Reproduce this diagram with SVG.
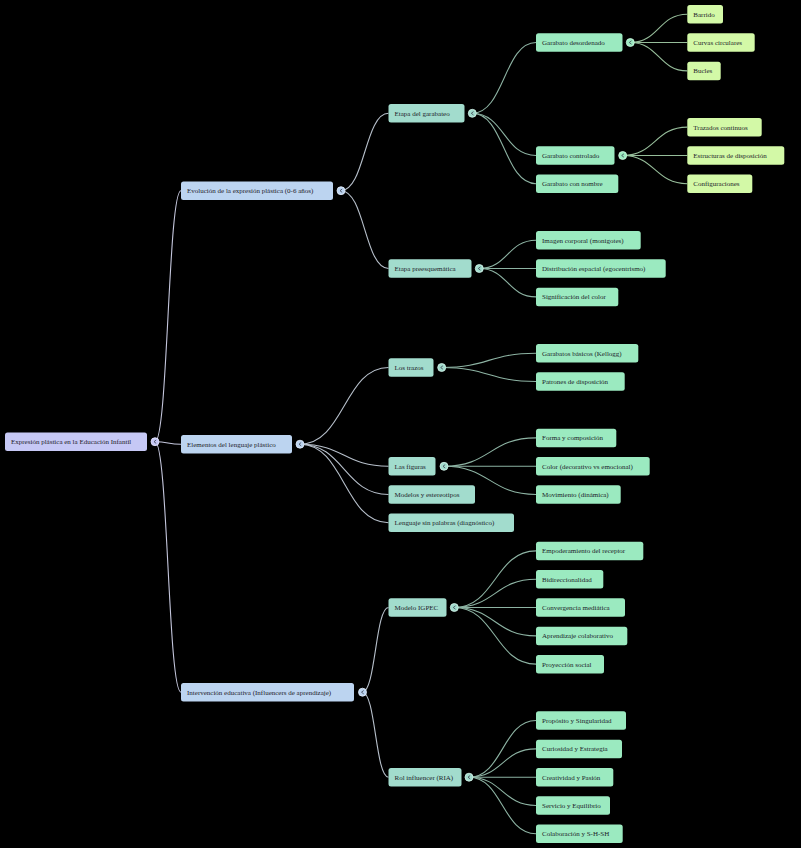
<svg xmlns="http://www.w3.org/2000/svg" width="801" height="848" viewBox="0 0 801 848">
<style>
text{font-family:"Liberation Serif","Times New Roman",serif;font-size:7px;fill:#1c1c2a}
.n rect{rx:2.5;ry:2.5}
.l0 rect{fill:#c6c8f5}
.l1 rect{fill:#bcd4f0}
.l2 rect{fill:#a2dccd}
.l3 rect{fill:#9beac0}
.l4 rect{fill:#d3f9a7}
.c{stroke-width:0.8}
.c0{fill:#c6c8f5;stroke:#e8e9ff}
.c1{fill:#bcd4f0;stroke:#e4eefa}
.c2{fill:#a2dccd;stroke:#d6f2ea}
.c3{fill:#9beac0;stroke:#d2f7e2}
.chev{fill:none;stroke:#3a4050;stroke-width:0.8}
#links path{fill:none;stroke-width:1.1}
.k1{stroke:#c4c6dc}
.k2{stroke:#b6bfca}
.k3{stroke:#8db3a3}
.k4{stroke:#96bd9a}
</style>
<rect width="801" height="848" fill="#000"/>
<g id="links">
<path class="k1" d="M155 441.7 C168 441.7 168 190.7 181 190.7"/>
<path class="k1" d="M155 441.7 C168 441.7 168 444.2 181 444.2"/>
<path class="k1" d="M155 441.7 C168 441.7 168 692.2 181 692.2"/>
<path class="k2" d="M341 190.7 C364.75 190.7 364.75 113.3 388.5 113.3"/>
<path class="k2" d="M341 190.7 C364.75 190.7 364.75 268.5 388.5 268.5"/>
<path class="k2" d="M300 444.2 C344.25 444.2 344.25 367.5 388.5 367.5"/>
<path class="k2" d="M300 444.2 C344.25 444.2 344.25 466.3 388.5 466.3"/>
<path class="k2" d="M300 444.2 C344.25 444.2 344.25 494.5 388.5 494.5"/>
<path class="k2" d="M300 444.2 C344.25 444.2 344.25 522.7 388.5 522.7"/>
<path class="k2" d="M362.5 692.2 C375.5 692.2 375.5 607.5 388.5 607.5"/>
<path class="k2" d="M362.5 692.2 C375.5 692.2 375.5 777.2 388.5 777.2"/>
<path class="k3" d="M472.3 113.3 C504.15 113.3 504.15 42.5 536 42.5"/>
<path class="k3" d="M472.3 113.3 C504.15 113.3 504.15 155.5 536 155.5"/>
<path class="k3" d="M472.3 113.3 C504.15 113.3 504.15 183.7 536 183.7"/>
<path class="k3" d="M479.3 268.5 C507.65 268.5 507.65 240.2 536 240.2"/>
<path class="k3" d="M479.3 268.5 C507.65 268.5 507.65 268.5 536 268.5"/>
<path class="k3" d="M479.3 268.5 C507.65 268.5 507.65 296.9 536 296.9"/>
<path class="k3" d="M441.7 367.5 C488.85 367.5 488.85 353.2 536 353.2"/>
<path class="k3" d="M441.7 367.5 C488.85 367.5 488.85 381.5 536 381.5"/>
<path class="k3" d="M444 466.3 C490 466.3 490 437.9 536 437.9"/>
<path class="k3" d="M444 466.3 C490 466.3 490 466.2 536 466.2"/>
<path class="k3" d="M444 466.3 C490 466.3 490 494.5 536 494.5"/>
<path class="k3" d="M454.3 607.5 C495.15 607.5 495.15 550.9 536 550.9"/>
<path class="k3" d="M454.3 607.5 C495.15 607.5 495.15 579.2 536 579.2"/>
<path class="k3" d="M454.3 607.5 C495.15 607.5 495.15 607.5 536 607.5"/>
<path class="k3" d="M454.3 607.5 C495.15 607.5 495.15 635.9 536 635.9"/>
<path class="k3" d="M454.3 607.5 C495.15 607.5 495.15 664.1 536 664.1"/>
<path class="k3" d="M469 777.2 C502.5 777.2 502.5 720.5 536 720.5"/>
<path class="k3" d="M469 777.2 C502.5 777.2 502.5 748.9 536 748.9"/>
<path class="k3" d="M469 777.2 C502.5 777.2 502.5 777.2 536 777.2"/>
<path class="k3" d="M469 777.2 C502.5 777.2 502.5 805.5 536 805.5"/>
<path class="k3" d="M469 777.2 C502.5 777.2 502.5 833.8 536 833.8"/>
<path class="k4" d="M630.3 42.5 C658.8 42.5 658.8 14.2 687.3 14.2"/>
<path class="k4" d="M630.3 42.5 C658.8 42.5 658.8 42.5 687.3 42.5"/>
<path class="k4" d="M630.3 42.5 C658.8 42.5 658.8 70.9 687.3 70.9"/>
<path class="k4" d="M622.7 155.5 C655 155.5 655 127.1 687.3 127.1"/>
<path class="k4" d="M622.7 155.5 C655 155.5 655 155.5 687.3 155.5"/>
<path class="k4" d="M622.7 155.5 C655 155.5 655 183.7 687.3 183.7"/>
</g>

<g id="root" class="n l0"><rect x="5" y="432.5" width="142" height="18.5"/><text x="11" y="444.1">Expresión plástica en la Educación Infantil</text><circle class="c c0" cx="155" cy="441.7" r="4"/><path class="chev" d="M156.2 440 L154 441.7 L156.2 443.4"/></g>

<g id="n-evolucion" class="n l1"><rect x="181" y="181.5" width="152" height="18.5"/><text x="187" y="193.1">Evolución de la expresión plástica (0-6 años)</text><circle class="c c1" cx="341" cy="190.7" r="4"/><path class="chev" d="M342.2 189 L340 190.7 L342.2 192.4"/></g>
<g id="n-elementos" class="n l1"><rect x="181" y="435" width="111" height="18.5"/><text x="187" y="446.6">Elementos del lenguaje plástico</text><circle class="c c1" cx="300" cy="444.2" r="4"/><path class="chev" d="M301.2 442.5 L299 444.2 L301.2 445.9"/></g>
<g id="n-intervencion" class="n l1"><rect x="181" y="683" width="173" height="18.5"/><text x="187" y="694.6">Intervención educativa (Influencers de aprendizaje)</text><circle class="c c1" cx="362.5" cy="692.2" r="4"/><path class="chev" d="M363.7 690.5 L361.5 692.2 L363.7 693.9"/></g>

<g id="n-garabateo" class="n l2"><rect x="388.5" y="104" width="76" height="18.5"/><text x="394.5" y="115.7">Etapa del garabateo</text><circle class="c c2" cx="472.3" cy="113.3" r="4"/><path class="chev" d="M473.5 111.6 L471.3 113.3 L473.5 115"/></g>
<g id="n-preesq" class="n l2"><rect x="388.5" y="259.3" width="83" height="18.5"/><text x="394.5" y="270.9">Etapa preesquemática</text><circle class="c c2" cx="479.3" cy="268.5" r="4"/><path class="chev" d="M480.5 266.8 L478.3 268.5 L480.5 270.2"/></g>
<g id="n-trazos" class="n l2"><rect x="388.5" y="358.3" width="45" height="18.5"/><text x="394.5" y="369.9">Los trazos</text><circle class="c c2" cx="441.7" cy="367.5" r="4"/><path class="chev" d="M442.9 365.8 L440.7 367.5 L442.9 369.2"/></g>
<g id="n-figuras" class="n l2"><rect x="388.5" y="457" width="47" height="18.5"/><text x="394.5" y="468.7">Las figuras</text><circle class="c c2" cx="444" cy="466.3" r="4"/><path class="chev" d="M445.2 464.6 L443 466.3 L445.2 468"/></g>
<g id="n-modelos" class="n l2"><rect x="388.5" y="485.3" width="86.5" height="18.5"/><text x="394.5" y="496.9">Modelos y estereotipos</text></g>
<g id="n-lenguaje" class="n l2"><rect x="388.5" y="513.5" width="125.5" height="18.5"/><text x="394.5" y="525.1">Lenguaje sin palabras (diagnóstico)</text></g>
<g id="n-igpec" class="n l2"><rect x="388.5" y="598.3" width="58" height="18.5"/><text x="394.5" y="609.9">Modelo IGPEC</text><circle class="c c2" cx="454.3" cy="607.5" r="4"/><path class="chev" d="M455.5 605.8 L453.3 607.5 L455.5 609.2"/></g>
<g id="n-ria" class="n l2"><rect x="388.5" y="768" width="73" height="18.5"/><text x="394.5" y="779.6">Rol influencer (RIA)</text><circle class="c c2" cx="469" cy="777.2" r="4"/><path class="chev" d="M470.2 775.5 L468 777.2 L470.2 778.9"/></g>

<g id="n-desordenado" class="n l3"><rect x="536" y="33.3" width="86.5" height="18.5"/><text x="542" y="44.9">Garabato desordenado</text><circle class="c c3" cx="630.3" cy="42.5" r="4"/><path class="chev" d="M631.5 40.8 L629.3 42.5 L631.5 44.2"/></g>
<g id="n-controlado" class="n l3"><rect x="536" y="146.3" width="78.5" height="18.5"/><text x="542" y="157.9">Garabato controlado</text><circle class="c c3" cx="622.7" cy="155.5" r="4"/><path class="chev" d="M623.9 153.8 L621.7 155.5 L623.9 157.2"/></g>
<g id="n-connombre" class="n l3"><rect x="536" y="174.5" width="82.3" height="18.5"/><text x="542" y="186.1">Garabato con nombre</text></g>
<g id="n-imagen" class="n l3"><rect x="536" y="231" width="104.7" height="18.5"/><text x="542" y="242.6">Imagen corporal (monigotes)</text></g>
<g id="n-distribucion" class="n l3"><rect x="536" y="259.3" width="129.7" height="18.5"/><text x="542" y="270.9">Distribución espacial (egocentrismo)</text></g>
<g id="n-significacion" class="n l3"><rect x="536" y="287.7" width="82.3" height="18.5"/><text x="542" y="299.3">Significación del color</text></g>
<g id="n-kellogg" class="n l3"><rect x="536" y="344" width="102.3" height="18.5"/><text x="542" y="355.6">Garabatos básicos (Kellogg)</text></g>
<g id="n-patrones" class="n l3"><rect x="536" y="372.3" width="88.7" height="18.5"/><text x="542" y="383.9">Patrones de disposición</text></g>
<g id="n-forma" class="n l3"><rect x="536" y="428.7" width="80.3" height="18.5"/><text x="542" y="440.3">Forma y composición</text></g>
<g id="n-color" class="n l3"><rect x="536" y="457" width="113.7" height="18.5"/><text x="542" y="468.6">Color (decorativo vs emocional)</text></g>
<g id="n-movimiento" class="n l3"><rect x="536" y="485.3" width="84.7" height="18.5"/><text x="542" y="496.9">Movimiento (dinámica)</text></g>
<g id="n-empoderamiento" class="n l3"><rect x="536" y="541.7" width="107.3" height="18.5"/><text x="542" y="553.3">Empoderamiento del receptor</text></g>
<g id="n-bidireccionalidad" class="n l3"><rect x="536" y="570" width="67.3" height="18.5"/><text x="542" y="581.6">Bidireccionalidad</text></g>
<g id="n-convergencia" class="n l3"><rect x="536" y="598.3" width="89" height="18.5"/><text x="542" y="609.9">Convergencia mediática</text></g>
<g id="n-aprendizaje" class="n l3"><rect x="536" y="626.7" width="91.3" height="18.5"/><text x="542" y="638.3">Aprendizaje colaborativo</text></g>
<g id="n-proyeccion" class="n l3"><rect x="536" y="654.9" width="68" height="18.5"/><text x="542" y="666.5">Proyección social</text></g>
<g id="n-proposito" class="n l3"><rect x="536" y="711.3" width="90" height="18.5"/><text x="542" y="722.9">Propósito y Singularidad</text></g>
<g id="n-curiosidad" class="n l3"><rect x="536" y="739.7" width="86" height="18.5"/><text x="542" y="751.3">Curiosidad y Estrategia</text></g>
<g id="n-creatividad" class="n l3"><rect x="536" y="768" width="77.3" height="18.5"/><text x="542" y="779.6">Creatividad y Pasión</text></g>
<g id="n-servicio" class="n l3"><rect x="536" y="796.3" width="74" height="18.5"/><text x="542" y="807.9">Servicio y Equilibrio</text></g>
<g id="n-colaboracion" class="n l3"><rect x="536" y="824.6" width="86.7" height="18.5"/><text x="542" y="836.2">Colaboración y S-H-SH</text></g>

<g id="n-barrido" class="n l4"><rect x="687.3" y="5" width="35.7" height="18.5"/><text x="693.3" y="16.6">Barrido</text></g>
<g id="n-curvas" class="n l4"><rect x="687.3" y="33.3" width="67.4" height="18.5"/><text x="693.3" y="44.9">Curvas circulares</text></g>
<g id="n-bucles" class="n l4"><rect x="687.3" y="61.7" width="33.4" height="18.5"/><text x="693.3" y="73.3">Bucles</text></g>
<g id="n-trazados" class="n l4"><rect x="687.3" y="117.9" width="74.4" height="18.5"/><text x="693.3" y="129.5">Trazados continuos</text></g>
<g id="n-estructuras" class="n l4"><rect x="687.3" y="146.3" width="97" height="18.5"/><text x="693.3" y="157.9">Estructuras de disposición</text></g>
<g id="n-configuraciones" class="n l4"><rect x="687.3" y="174.5" width="65" height="18.5"/><text x="693.3" y="186.1">Configuraciones</text></g>
</svg>
